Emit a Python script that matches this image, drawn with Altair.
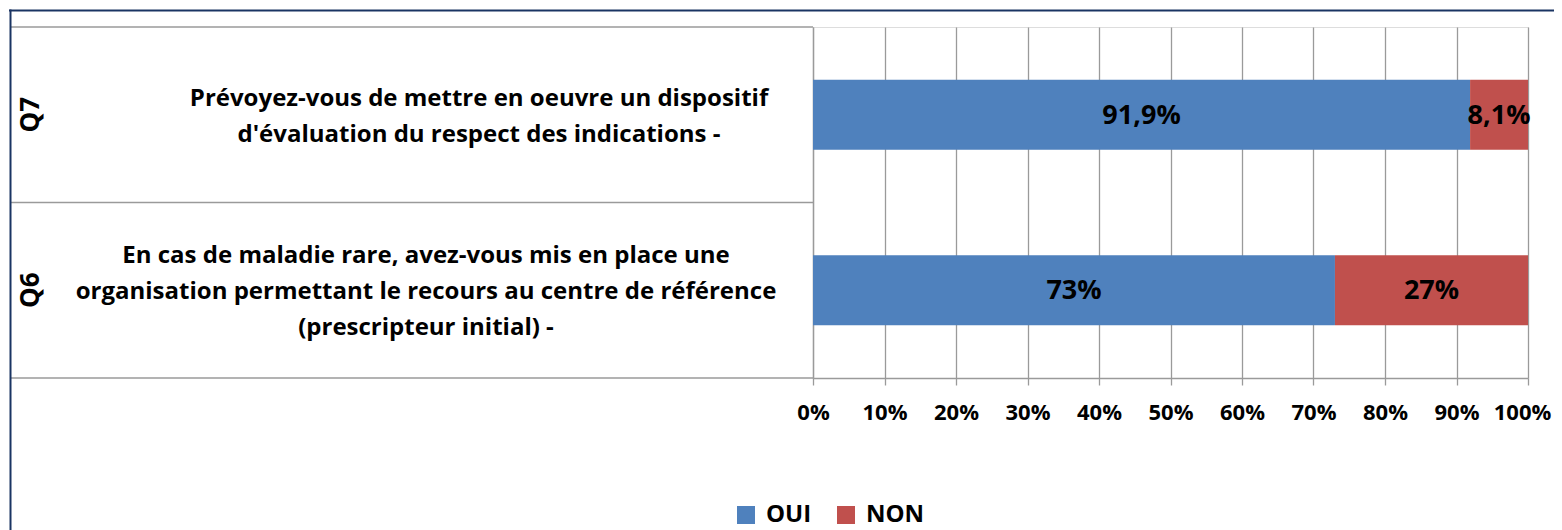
import altair as alt
import pandas as pd

# ---- data ----
codes = ["Q7", "Q6"]
questions = [
    "Prévoyez-vous de mettre en oeuvre un dispositif|d'évaluation du respect des indications -",
    "En cas de maladie rare, avez-vous mis en place une|organisation permettant le recours au centre de référence|(prescripteur initial) -",
]
responses = ["OUI", "NON"]
oui_values = [91.9, 73.0]
non_values = [8.1, 27.0]
oui_labels = ["91,9%", "73%"]
non_labels = ["8,1%", "27%"]
x_ticks = [0, 10, 20, 30, 40, 50, 60, 70, 80, 90, 100]
colors = ["#4F81BD", "#C0504D"]

rows = []
for i, q in enumerate(questions):
    rows.append({"q": q, "code": codes[i], "resp": "OUI", "ord": 0, "val": oui_values[i], "lab": oui_labels[i]})
    rows.append({"q": q, "code": codes[i], "resp": "NON", "ord": 1, "val": non_values[i], "lab": non_labels[i]})
df = pd.DataFrame(rows)
qdf = pd.DataFrame({"q": questions, "code": codes})
one = pd.DataFrame({"k": [0]})

FONT = "Open Sans"
GRAY = "#9A9A9A"
NAVY = "#1A3463"
LINE_H = 36

y_enc = alt.Y(
    "q:N",
    sort=questions,
    title=None,
    scale=alt.Scale(paddingInner=0.6, paddingOuter=0.3),
    axis=alt.Axis(
        domain=True, domainColor=GRAY, domainWidth=1.3,
        ticks=False, grid=False, labels=False,
    ),
)

x_scale = alt.Scale(domain=[0, 100], nice=False)

bars = alt.Chart(df).mark_bar(size=70).encode(
    x=alt.X(
        "val:Q", stack="zero", scale=x_scale, title=None,
        axis=alt.Axis(
            values=x_ticks, labelExpr="datum.value + '%'",
            labelOverlap=False, labelFlush=False, labelBound=False,
            labelOffset={"condition": {"test": "datum.value == 100", "value": -6}, "value": 0},
            grid=True, gridColor=GRAY, gridWidth=1.3,
            ticks=True, tickSize=7, tickColor=GRAY, tickWidth=1.3,
            domain=True, domainColor=GRAY, domainWidth=1.3,
            labelFont=FONT, labelFontSize=22, labelFontWeight="bold",
            labelColor="#000000", labelPadding=17,
        ),
    ),
    y=y_enc,
    color=alt.Color(
        "resp:N",
        scale=alt.Scale(domain=responses, range=colors),
        sort=responses,
        legend=alt.Legend(
            title=None, orient="none", legendX=-79, legendY=476,
            direction="horizontal", symbolType="square", symbolSize=324,
            symbolStrokeWidth=0, symbolOpacity=1,
            labelFont=FONT, labelFontSize=24, labelFontWeight="bold",
            labelColor="#000000", labelOffset=8, columnPadding=22,
        ),
    ),
    order=alt.Order("ord:Q"),
)

bar_text = alt.Chart(df).transform_stack(
    stack="val", groupby=["q"], as_=["v0", "v1"], sort=[alt.SortField("ord")]
).transform_calculate(
    mid="(datum.v0 + datum.v1) / 2"
).mark_text(
    font=FONT, fontSize=27, fontWeight="bold", color="#000000",
    align="center", baseline="middle", dy=1,
).encode(
    x=alt.X("mid:Q", scale=x_scale),
    y=alt.Y("q:N", sort=questions),
    text="lab:N",
)

code_text = alt.Chart(qdf).mark_text(
    font=FONT, fontSize=26, fontWeight="bold", color="#000000",
    angle=270, align="center", baseline="middle",
).encode(
    x=alt.value(-782),
    y=alt.Y("q:N", sort=questions),
    text="code:N",
)

def question_text(code, x_center, n_lines):
    return alt.Chart(qdf).transform_filter(
        alt.datum.code == code
    ).mark_text(
        font=FONT, fontSize=24, fontWeight="bold", color="#000000",
        align="center", baseline="middle", lineBreak="|", lineHeight=LINE_H,
        dy=-(n_lines - 1) * LINE_H / 2 + 2,
    ).encode(
        x=alt.value(x_center),
        y=alt.Y("q:N", sort=questions),
        text="q:N",
    )

q7_text = question_text("Q7", -334, 2)
q6_text = question_text("Q6", -387, 3)

def hline(y, x0, x1, color, w):
    return alt.Chart(one).mark_rule(color=color, strokeWidth=w).encode(
        x=alt.value(x0), x2=alt.value(x1), y=alt.value(y)
    )

sep_top = hline(0, -802, 0, GRAY, 1.3)
sep_mid = hline(175.5, -802, 0, GRAY, 1.3)
sep_bot = hline(351, -802, 0, GRAY, 1.3)
frame_top = hline(-16.5, -804, 760, NAVY, 2.2)
frame_left = alt.Chart(one).mark_rule(color=NAVY, strokeWidth=2).encode(
    x=alt.value(-802.5), y=alt.value(-17.5), y2=alt.value(520)
)

chart = alt.layer(
    sep_top, sep_mid, sep_bot, bars, bar_text, code_text, q7_text, q6_text,
    frame_top, frame_left
).properties(
    width=715, height=351,
    padding={"left": 805, "top": 19, "right": 26, "bottom": 152},
    autosize=alt.AutoSizeParams(type="none"),
).configure_view(stroke=None).configure(background="#FFFFFF")

chart.save("out.html", embed_options={"renderer": "svg", "actions": False})
